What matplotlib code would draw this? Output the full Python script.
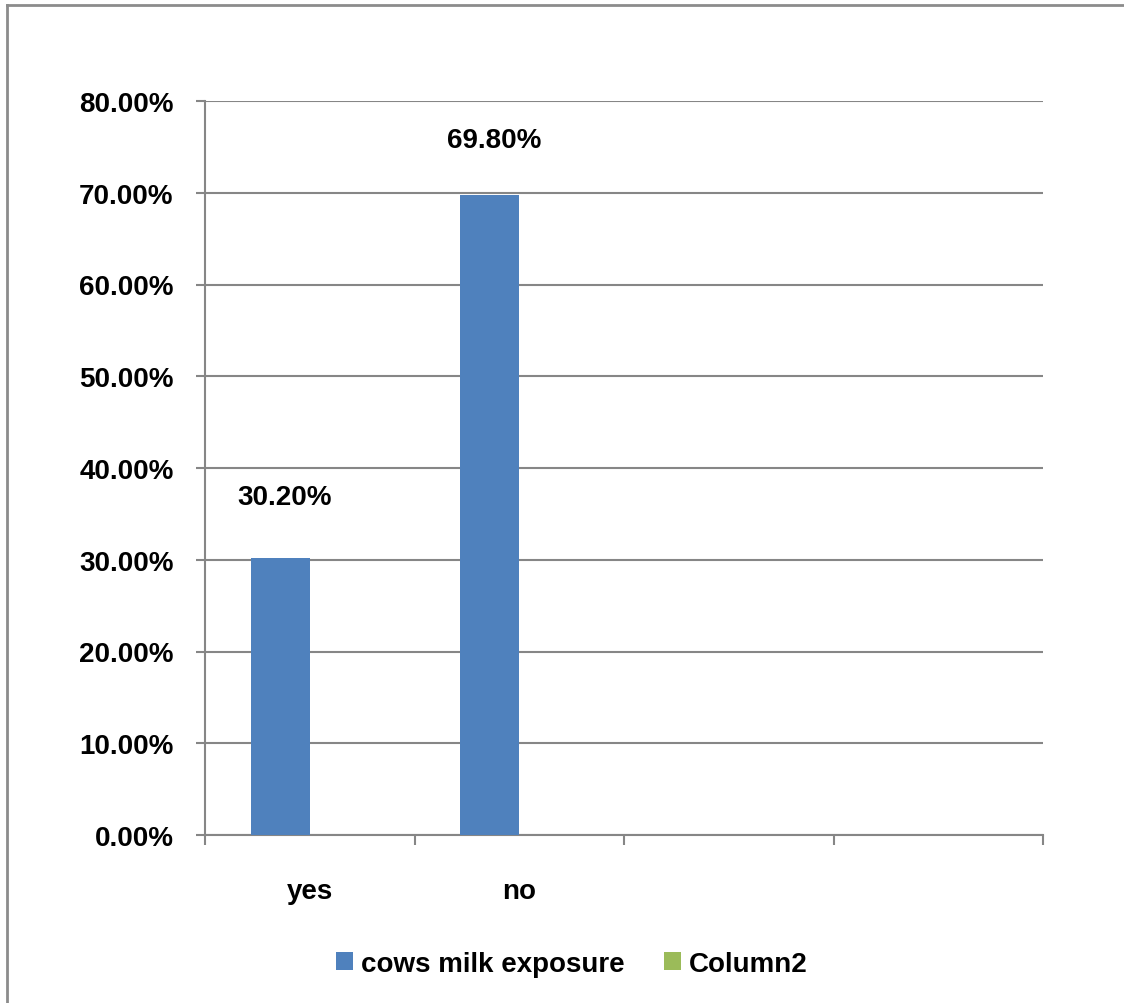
"""
Bar chart of cows milk exposure (yes / no) with an empty second series.
"""

import matplotlib

matplotlib.use("Agg")
import matplotlib.pyplot as plt
import numpy as np
from matplotlib import font_manager
from matplotlib.lines import Line2D
from matplotlib.patches import Patch
from matplotlib.ticker import FuncFormatter

# Chart data
categories = ["yes", "no", "", ""]
milk_exposure = [0.302, 0.698, np.nan, np.nan]
column2 = [np.nan, np.nan, np.nan, np.nan]
series_names = ["cows milk exposure", "Column2"]
value_labels = ["30.20%", "69.80%"]
y_ticks = [0.0, 0.1, 0.2, 0.3, 0.4, 0.5, 0.6, 0.7, 0.8]

BLUE = "#4F81BD"
GREEN = "#9BBB59"
GRID = "#868686"

installed = {f.name for f in font_manager.fontManager.ttflist}
FAMILY = [f for f in ["Liberation Sans Narrow", "Liberation Sans", "DejaVu Sans"] if f in installed]
plt.rcParams["font.family"] = FAMILY
plt.rcParams["font.weight"] = "bold"

FS = 20

fig = plt.figure(figsize=(11.24, 10.04), dpi=100)
ax = fig.add_axes([205 / 1124, 1 - 836 / 1004, (1043 - 205) / 1124, (836 - 102) / 1004])

x = np.arange(len(categories))
width = 0.282
bars1 = ax.bar(x - width / 2, milk_exposure, width, color=BLUE, zorder=3)
ax.bar(x + width / 2, column2, width, color=GREEN, zorder=3)

# Data labels (placed by hand in the original, slightly different offsets)
offsets = [48, 42]
for rect, lab, off in zip(bars1, value_labels, offsets):
    ax.annotate(
        lab,
        (rect.get_x() + rect.get_width() / 2, rect.get_height()),
        xytext=(3, off * 0.72),
        textcoords="offset points",
        ha="center",
        va="bottom",
        fontsize=FS,
        fontweight="bold",
    )

ax.set_xlim(-0.5, len(categories) - 0.5)
ax.set_ylim(0, 0.8)
ax.set_yticks(y_ticks)
ax.yaxis.set_major_formatter(FuncFormatter(lambda v, _: f"{v * 100:.2f}%"))
ax.yaxis.grid(True, color=GRID, linewidth=1.5, zorder=0)

# Category boundary ticks, labels in the middle
ax.set_xticks(np.arange(len(categories) + 1) - 0.5)
ax.set_xticklabels([])
ax.set_xticks(x, minor=True)
ax.set_xticklabels(categories, minor=True)
ax.tick_params(axis="x", which="major", length=7, width=1.5, color=GRID, direction="out")
ax.tick_params(axis="x", which="minor", length=0, pad=31, labelsize=FS)
ax.tick_params(axis="y", length=6.5, width=1.5, color=GRID, pad=16, labelsize=FS)

for s in ["top", "right"]:
    ax.spines[s].set_visible(False)
for s in ["left", "bottom"]:
    ax.spines[s].set_color(GRID)
    ax.spines[s].set_linewidth(1.5)

handles = [Patch(facecolor=BLUE), Patch(facecolor=GREEN)]
fig.legend(
    handles,
    series_names,
    loc="center",
    bbox_to_anchor=(572 / 1124, 1 - 965 / 1004),
    ncol=2,
    frameon=False,
    fontsize=FS,
    handlelength=0.6,
    handleheight=0.6,
    handletextpad=0.3,
    columnspacing=1.4,
)

# Outer chart frame (only left and top edges visible in the crop)
fx, fy = 7 / 1124, 1 - 6 / 1004
fig.add_artist(Line2D([fx, fx], [0, fy], transform=fig.transFigure, color="#8c8c8c", linewidth=2))
fig.add_artist(Line2D([fx, 1], [fy, fy], transform=fig.transFigure, color="#8c8c8c", linewidth=2))

fig.savefig("out.png", dpi=100)
